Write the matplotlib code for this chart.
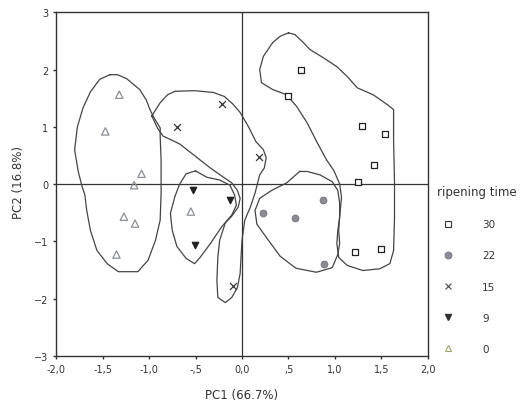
import numpy as np
import matplotlib.pyplot as plt
from matplotlib.lines import Line2D

# scores per ripening time (days)
pc1_30 = [0.63, 0.49, 1.29, 1.54, 1.42, 1.25, 1.22, 1.50]
pc2_30 = [1.99, 1.54, 1.01, 0.88, 0.34, 0.04, -1.18, -1.13]
pc1_22 = [0.23, 0.57, 0.87, 0.88]
pc2_22 = [-0.51, -0.60, -0.28, -1.39]
pc1_15 = [-0.70, -0.22, 0.18, -0.10]
pc2_15 = [1.00, 1.40, 0.47, -1.78]
pc1_9 = [-0.53, -0.13, -0.51]
pc2_9 = [-0.10, -0.27, -1.06]
pc1_0 = [-1.32, -1.47, -1.08, -1.16, -1.27, -1.15, -1.35, -0.55]
pc2_0 = [1.56, 0.92, 0.18, -0.02, -0.57, -0.69, -1.23, -0.48]

# hand drawn group outlines (PC1, PC2)
hull_0 = [(-1.42, 1.91), (-1.53, 1.83), (-1.63, 1.61), (-1.71, 1.33), (-1.77, 1.00),
          (-1.80, 0.60), (-1.76, 0.21), (-1.72, -0.04), (-1.69, -0.19), (-1.67, -0.46),
          (-1.63, -0.81), (-1.56, -1.16), (-1.45, -1.39), (-1.33, -1.53), (-1.12, -1.53),
          (-1.01, -1.33), (-0.93, -0.98), (-0.88, -0.63), (-0.87, -0.16), (-0.87, 0.42),
          (-0.88, 0.83), (-0.88, 0.98), (-0.94, 1.14), (-0.99, 1.30), (-1.03, 1.47),
          (-1.10, 1.65), (-1.24, 1.84), (-1.34, 1.91)]
hull_15 = [(-0.97, 1.19), (-0.88, 1.42), (-0.80, 1.56), (-0.72, 1.62), (-0.51, 1.63),
           (-0.31, 1.60), (-0.19, 1.53), (-0.10, 1.40), (-0.02, 1.25), (0.07, 1.00),
           (0.15, 0.74), (0.23, 0.60), (0.26, 0.46), (0.24, 0.28), (0.19, 0.16),
           (0.14, -0.16), (0.09, -0.40), (0.03, -0.63), (0.00, -0.98), (-0.02, -1.56),
           (-0.05, -1.81), (-0.11, -1.98), (-0.18, -2.07), (-0.26, -1.98), (-0.27, -1.68),
           (-0.26, -1.28), (-0.24, -0.98), (-0.18, -0.68), (-0.11, -0.56), (-0.04, -0.40),
           (-0.02, -0.25), (-0.05, -0.11), (-0.11, 0.02), (-0.20, 0.12), (-0.34, 0.28),
           (-0.45, 0.42), (-0.67, 0.70), (-0.85, 0.84), (-0.91, 0.98)]
hull_9 = [(-0.50, 0.23), (-0.60, 0.18), (-0.67, 0.00), (-0.72, -0.21), (-0.77, -0.51),
          (-0.75, -0.81), (-0.70, -1.09), (-0.60, -1.30), (-0.51, -1.39), (-0.45, -1.28),
          (-0.34, -1.04), (-0.22, -0.75), (-0.11, -0.54), (-0.06, -0.37), (-0.08, -0.19),
          (-0.13, -0.02), (-0.24, 0.07), (-0.38, 0.12)]
hull_22 = [(0.62, 0.22), (0.48, 0.02), (0.32, -0.11), (0.19, -0.25), (0.14, -0.46),
           (0.16, -0.70), (0.27, -0.95), (0.41, -1.26), (0.58, -1.47), (0.80, -1.54),
           (0.97, -1.46), (1.03, -1.23), (1.05, -1.04), (1.04, -0.81), (1.05, -0.58),
           (1.05, -0.33), (1.03, -0.11), (0.97, 0.04), (0.84, 0.16), (0.70, 0.22)]
hull_30 = [(0.50, 2.64), (0.41, 2.58), (0.33, 2.47), (0.23, 2.23), (0.19, 2.00),
           (0.21, 1.77), (0.33, 1.65), (0.48, 1.56), (0.59, 1.35), (0.70, 1.07),
           (0.81, 0.72), (0.91, 0.42), (0.99, 0.23), (1.05, 0.00), (1.07, -0.23),
           (1.05, -0.58), (1.03, -0.81), (1.02, -1.04), (1.04, -1.28), (1.13, -1.42),
           (1.30, -1.51), (1.48, -1.48), (1.59, -1.39), (1.63, -1.16), (1.64, -0.58),
           (1.64, 0.02), (1.63, 0.77), (1.63, 1.30), (1.56, 1.39), (1.41, 1.56),
           (1.24, 1.68), (1.13, 1.88), (1.02, 2.05), (0.87, 2.21), (0.73, 2.35),
           (0.66, 2.47), (0.57, 2.61)]

xticks = [-2.0, -1.5, -1.0, -0.5, 0.0, 0.5, 1.0, 1.5, 2.0]
xticklabels = ['-2,0', '-1,5', '-1,0', '-,5', '0,0', ',5', '1,0', '1,5', '2,0']
yticks = [-3, -2, -1, 0, 1, 2, 3]

fig = plt.figure(figsize=(5.31, 4.14), dpi=100)
ax = fig.add_axes([0.1055, 0.138, 0.7005, 0.830])

for hull in [hull_0, hull_15, hull_9, hull_22, hull_30]:
    pts = np.array(hull + [hull[0]])
    ax.plot(pts[:, 0], pts[:, 1], color='#444444', lw=0.9, zorder=2)

ax.axhline(0, color='#333333', lw=0.9, zorder=1)
ax.axvline(0, color='#333333', lw=0.9, zorder=1)

ms = 24
ax.scatter(pc1_30, pc2_30, marker='s', s=ms, facecolor='white', edgecolor='#222222', lw=0.9, zorder=3)
ax.scatter(pc1_22, pc2_22, marker='o', s=ms, facecolor='#8c8c96', edgecolor='#707078', lw=0.6, zorder=3)
ax.scatter(pc1_15, pc2_15, marker='x', s=ms, color='#333333', lw=0.9, zorder=3)
ax.scatter(pc1_9, pc2_9, marker='v', s=ms - 4, color='#222222', zorder=3)
ax.scatter(pc1_0, pc2_0, marker='^', s=ms + 4, facecolor='none', edgecolor='#8a9096', lw=0.9, zorder=3)

ax.set_xlim(-2, 2)
ax.set_ylim(-3, 3)
ax.set_xticks(xticks)
ax.set_xticklabels(xticklabels)
ax.set_yticks(yticks)
ax.tick_params(labelsize=7, length=2.5, width=1, colors='#333333', pad=3)
for s in ax.spines.values():
    s.set_color('#333333')
    s.set_linewidth(1)

fig.text(0.454, 0.045, 'PC1 (66.7%)', fontsize=8.5, color='#333333', ha='center', va='center')
fig.text(0.034, 0.56, 'PC2 (16.8%)', fontsize=8.5, color='#333333', ha='center', va='center',
         rotation=90)

handles = [
    Line2D([], [], ls='none', marker='s', ms=5, mfc='white', mec='#333333', mew=0.8),
    Line2D([], [], ls='none', marker='o', ms=5, mfc='#8c8c96', mec='#707078', mew=0.6),
    Line2D([], [], ls='none', marker='x', ms=5, color='#444444', mew=0.8),
    Line2D([], [], ls='none', marker='v', ms=4.5, color='#333333'),
    Line2D([], [], ls='none', marker='^', ms=5, mfc='none', mec='#a0a070', mew=0.8),
]
labels = ['30', '22', '15', '9', '0']
leg = ax.legend(handles, labels, title='ripening time', loc='upper left',
                bbox_to_anchor=(1.005, 0.518), frameon=False, fontsize=7.5,
                title_fontsize=8.5, handlelength=2.1, handletextpad=2.2,
                labelspacing=2.03, alignment='left', borderaxespad=0.3)
for t in leg.get_texts():
    t.set_color('#333333')
leg.get_title().set_color('#333333')

fig.savefig('out.png', dpi=100)
